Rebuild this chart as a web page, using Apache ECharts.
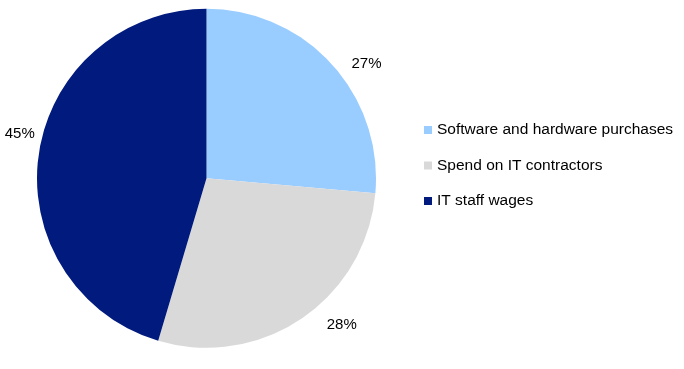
<!DOCTYPE html>
<html>
<head>
<meta charset="utf-8">
<script src="https://cdn.jsdelivr.net/npm/echarts@6/dist/echarts.min.js"></script>
<style>
html,body{margin:0;padding:0;background:#fff;}
#chart{width:684px;height:369px;}
</style>
</head>
<body>
<div id="chart"></div>
<script>
// Data
var categories = ["Software and hardware purchases", "Spend on IT contractors", "IT staff wages"];
var values = [26.4, 28.2, 45.4];
var labelTexts = ["27%", "28%", "45%"];

var colors = ["#99CCFF", "#D9D9D9", "#001A7D"];
var labelOffsets = [{dx: 0, dy: 0}, {dx: 5, dy: 6}, {dx: 1, dy: -20}];
var labelLen2 = [15, 15, 0];

var chart = echarts.init(document.getElementById('chart'), null, {renderer: 'canvas'});
var data = categories.map(function (c, i) {
  return {
    name: c,
    value: values[i],
    itemStyle: {color: colors[i]},
    labelLine: {show: false, length: 0, length2: labelLen2[i]}
  };
});

chart.setOption({
  animation: false,
  textStyle: {fontFamily: 'Liberation Sans, Arial, sans-serif'},
  legend: {
    orient: 'vertical',
    left: 424,
    top: 122,
    icon: 'rect',
    itemWidth: 8,
    itemHeight: 8,
    itemGap: 19.5,
    padding: 0,
    selectedMode: false,
    textStyle: {fontSize: 15.5, color: '#000', fontFamily: 'Liberation Sans, Arial, sans-serif'},
    data: categories
  },
  series: [{
    type: 'pie',
    center: [206.5, 178.3],
    radius: [0, 169.5],
    startAngle: 90,
    clockwise: true,
    avoidLabelOverlap: false,
    label: {
      show: true,
      position: 'outside',
      fontSize: 15,
      color: '#000',
      fontFamily: 'Liberation Sans, Arial, sans-serif',
      formatter: function (p) { return labelTexts[p.dataIndex]; }
    },
    labelLayout: function (p) { return labelOffsets[p.dataIndex]; },
    emphasis: {disabled: true},
    data: data
  }]
});
</script>
</body>
</html>
